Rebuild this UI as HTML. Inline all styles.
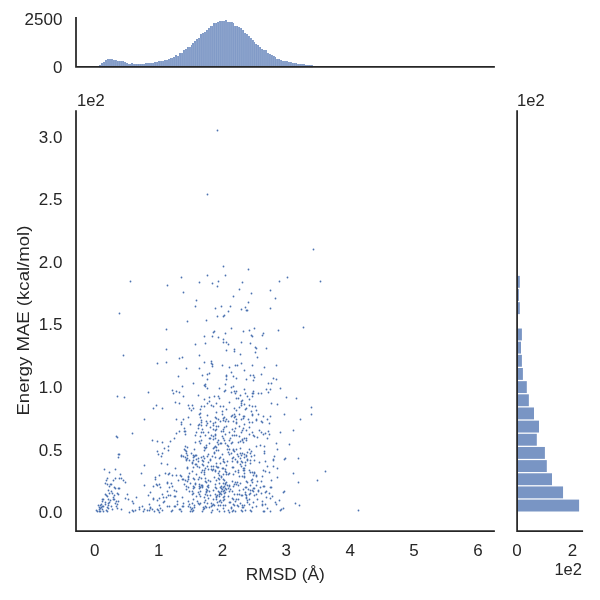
<!DOCTYPE html>
<html lang="en"><head><meta charset="utf-8"><title>RMSD vs Energy MAE</title>
<style>
html,body{margin:0;padding:0;background:#fff;}
body{width:600px;height:600px;overflow:hidden;font-family:"Liberation Sans",sans-serif;}
svg{display:block;will-change:transform;}
svg text{font-family:"Liberation Sans",sans-serif;fill:#262626;}
.t{font-size:15.6px;}
.l{font-size:17px;}
</style></head><body>
<svg width="600" height="600" viewBox="0 0 600 600">
<g id="hist-top">
<path d="M99 67.2 V65 H101 V63 H103 V62 H105 V60 H107 V59 H113 V60 H117 V61 H124 V62 H126 V63 H128 V64 H131 V63 H133 V64 H145 V63 H154 V62 H158 V61 H164 V60 H168 V59 H170 V58 H173 V57 H175 V55 H177 V56 H179 V53 H183 V50 H185 V49 H187 V47 H191 V45 H192 V43 H194 V41 H196 V39 H198 V38 H200 V34 H202 V33 H204 V32 H206 V30 H208 V28 H210 V26 H213 V23 H217 V22 H219 V21 H225 V20 H227 V22 H233 V23 H234 V26 H238 V27 H240 V28 H242 V30 H244 V33 H246 V34 H248 V36 H250 V38 H252 V40 H254 V42 H255 V44 H257 V45 H259 V47 H261 V49 H263 V50 H267 V53 H269 V54 H271 V55 H273 V56 H275 V57 H276 V59 H280 V60 H282 V61 H288 V62 H292 V63 H297 V64 H305 V65 H313 V67.2 Z" fill="#809ac7"/>
<path d="M101.41 65V67.2M103.31 63V67.2M105.21 62V67.2M107.12 60V67.2M109.02 59V67.2M110.92 59V67.2M112.82 59V67.2M114.73 60V67.2M116.63 60V67.2M118.53 61V67.2M120.44 61V67.2M122.34 61V67.2M124.24 62V67.2M126.14 63V67.2M128.05 64V67.2M129.95 64V67.2M131.85 64V67.2M133.75 64V67.2M135.66 64V67.2M137.56 64V67.2M139.46 64V67.2M141.36 64V67.2M143.27 64V67.2M145.17 64V67.2M147.07 63V67.2M148.98 63V67.2M150.88 63V67.2M152.78 63V67.2M154.68 63V67.2M156.59 62V67.2M158.49 62V67.2M160.39 61V67.2M162.29 61V67.2M164.20 61V67.2M166.10 60V67.2M168.00 60V67.2M169.91 59V67.2M171.81 58V67.2M173.71 58V67.2M175.61 57V67.2M177.52 56V67.2M179.42 56V67.2M181.32 53V67.2M183.22 53V67.2M185.13 50V67.2M187.03 49V67.2M188.93 47V67.2M190.84 47V67.2M192.74 45V67.2M194.64 43V67.2M196.54 41V67.2M198.45 39V67.2M200.35 38V67.2M202.25 34V67.2M204.15 33V67.2M206.06 32V67.2M207.96 30V67.2M209.86 28V67.2M211.76 26V67.2M213.67 26V67.2M215.57 23V67.2M217.47 23V67.2M219.38 22V67.2M221.28 21V67.2M223.18 21V67.2M225.08 21V67.2M226.99 20V67.2M228.89 22V67.2M230.79 22V67.2M232.69 22V67.2M234.60 26V67.2M236.50 26V67.2M238.40 27V67.2M240.31 28V67.2M242.21 30V67.2M244.11 33V67.2M246.01 34V67.2M247.92 34V67.2M249.82 36V67.2M251.72 38V67.2M253.62 40V67.2M255.53 44V67.2M257.43 45V67.2M259.33 47V67.2M261.23 49V67.2M263.14 50V67.2M265.04 50V67.2M266.94 50V67.2M268.85 53V67.2M270.75 54V67.2M272.65 55V67.2M274.55 56V67.2M276.46 59V67.2M278.36 59V67.2M280.26 60V67.2M282.16 61V67.2M284.07 61V67.2M285.97 61V67.2M287.87 61V67.2M289.78 62V67.2M291.68 62V67.2M293.58 63V67.2M295.48 63V67.2M297.39 64V67.2M299.29 64V67.2M301.19 64V67.2M303.09 64V67.2M305.00 64V67.2M306.90 65V67.2M308.80 65V67.2M310.71 65V67.2M312.61 65V67.2" stroke="#ffffff" stroke-opacity="0.2" stroke-width="0.6" fill="none"/>
</g>
<g id="hist-right" fill="#7995c4">
<rect x="517.2" y="499.60" width="61.90" height="11.9"/>
<rect x="517.2" y="486.44" width="45.85" height="11.9"/>
<rect x="517.2" y="473.28" width="34.80" height="11.9"/>
<rect x="517.2" y="460.12" width="29.60" height="11.9"/>
<rect x="517.2" y="446.96" width="27.70" height="11.9"/>
<rect x="517.2" y="433.80" width="19.60" height="11.9"/>
<rect x="517.2" y="420.64" width="21.80" height="11.9"/>
<rect x="517.2" y="407.48" width="16.80" height="11.9"/>
<rect x="517.2" y="394.32" width="11.65" height="11.9"/>
<rect x="517.2" y="381.16" width="9.60" height="11.9"/>
<rect x="517.2" y="368.00" width="5.70" height="11.9"/>
<rect x="517.2" y="354.84" width="4.70" height="11.9"/>
<rect x="517.2" y="341.68" width="3.80" height="11.9"/>
<rect x="517.2" y="328.52" width="4.70" height="11.9"/>
<rect x="517.2" y="302.20" width="2.60" height="11.9"/>
<rect x="517.2" y="289.04" width="1.70" height="11.9"/>
<rect x="517.2" y="275.88" width="2.60" height="11.9"/>
</g>
<g id="scatter" fill="#4c72b0">
<circle cx="217.5" cy="130.5" r="0.9"/><circle cx="207.5" cy="194.5" r="0.9"/><circle cx="313.5" cy="249.5" r="0.9"/><circle cx="130.5" cy="281.5" r="0.9"/><circle cx="167.5" cy="285.5" r="0.9"/><circle cx="119.5" cy="313.5" r="0.9"/><circle cx="166.5" cy="329.5" r="0.9"/><circle cx="223.5" cy="266.5" r="0.9"/><circle cx="248.5" cy="269.5" r="0.9"/><circle cx="181.5" cy="277.5" r="0.9"/><circle cx="207.5" cy="275.5" r="0.9"/><circle cx="225.5" cy="275.5" r="0.9"/><circle cx="199.5" cy="282.5" r="0.9"/><circle cx="212.5" cy="283.5" r="0.9"/><circle cx="218.5" cy="281.5" r="0.9"/><circle cx="217.5" cy="286.5" r="0.9"/><circle cx="242.5" cy="282.5" r="0.9"/><circle cx="279.5" cy="281.5" r="0.9"/><circle cx="239.5" cy="289.5" r="0.9"/><circle cx="270.5" cy="290.5" r="0.9"/><circle cx="183.5" cy="292.5" r="0.9"/><circle cx="251.5" cy="293.5" r="0.9"/><circle cx="233.5" cy="296.5" r="0.9"/><circle cx="275.5" cy="298.5" r="0.9"/><circle cx="196.5" cy="300.5" r="0.9"/><circle cx="248.5" cy="302.5" r="0.9"/><circle cx="195.5" cy="306.5" r="0.9"/><circle cx="221.5" cy="306.5" r="0.9"/><circle cx="230.5" cy="306.5" r="0.9"/><circle cx="215.5" cy="308.5" r="0.9"/><circle cx="245.5" cy="307.5" r="0.9"/><circle cx="241.5" cy="309.5" r="0.9"/><circle cx="246.5" cy="310.5" r="0.9"/><circle cx="247.5" cy="310.5" r="0.9"/><circle cx="270.5" cy="308.5" r="0.9"/><circle cx="228.5" cy="311.5" r="0.9"/><circle cx="217.5" cy="316.5" r="0.9"/><circle cx="223.5" cy="316.5" r="0.9"/><circle cx="224.5" cy="315.5" r="0.9"/><circle cx="187.5" cy="321.5" r="0.9"/><circle cx="206.5" cy="320.5" r="0.9"/><circle cx="231.5" cy="328.5" r="0.9"/><circle cx="254.5" cy="328.5" r="0.9"/><circle cx="249.5" cy="330.5" r="0.9"/><circle cx="243.5" cy="331.5" r="0.9"/><circle cx="278.5" cy="330.5" r="0.9"/><circle cx="214.5" cy="331.5" r="0.9"/><circle cx="213.5" cy="332.5" r="0.9"/><circle cx="225.5" cy="333.5" r="0.9"/><circle cx="263.5" cy="333.5" r="0.9"/><circle cx="262.5" cy="335.5" r="0.9"/><circle cx="251.5" cy="335.5" r="0.9"/><circle cx="252.5" cy="336.5" r="0.9"/><circle cx="204.5" cy="336.5" r="0.9"/><circle cx="212.5" cy="336.5" r="0.9"/><circle cx="218.5" cy="337.5" r="0.9"/><circle cx="223.5" cy="339.5" r="0.9"/><circle cx="287.5" cy="277.5" r="0.9"/><circle cx="320.5" cy="281.5" r="0.9"/><circle cx="303.5" cy="327.5" r="0.9"/><circle cx="166.5" cy="349.5" r="0.9"/><circle cx="123.5" cy="355.5" r="0.9"/><circle cx="179.5" cy="358.5" r="0.9"/><circle cx="157.5" cy="363.5" r="0.9"/><circle cx="166.5" cy="362.5" r="0.9"/><circle cx="178.5" cy="376.5" r="0.9"/><circle cx="172.5" cy="390.5" r="0.9"/><circle cx="176.5" cy="391.5" r="0.9"/><circle cx="173.5" cy="393.5" r="0.9"/><circle cx="179.5" cy="392.5" r="0.9"/><circle cx="148.5" cy="392.5" r="0.9"/><circle cx="117.5" cy="396.5" r="0.9"/><circle cx="124.5" cy="397.5" r="0.9"/><circle cx="175.5" cy="402.5" r="0.9"/><circle cx="179.5" cy="403.5" r="0.9"/><circle cx="156.5" cy="405.5" r="0.9"/><circle cx="153.5" cy="408.5" r="0.9"/><circle cx="162.5" cy="408.5" r="0.9"/><circle cx="144.5" cy="419.5" r="0.9"/><circle cx="176.5" cy="419.5" r="0.9"/><circle cx="195.5" cy="344.5" r="0.9"/><circle cx="205.5" cy="343.5" r="0.9"/><circle cx="223.5" cy="342.5" r="0.9"/><circle cx="226.5" cy="342.5" r="0.9"/><circle cx="228.5" cy="344.5" r="0.9"/><circle cx="226.5" cy="350.5" r="0.9"/><circle cx="199.5" cy="355.5" r="0.9"/><circle cx="182.5" cy="357.5" r="0.9"/><circle cx="211.5" cy="361.5" r="0.9"/><circle cx="204.5" cy="362.5" r="0.9"/><circle cx="211.5" cy="363.5" r="0.9"/><circle cx="212.5" cy="364.5" r="0.9"/><circle cx="212.5" cy="366.5" r="0.9"/><circle cx="222.5" cy="365.5" r="0.9"/><circle cx="229.5" cy="367.5" r="0.9"/><circle cx="186.5" cy="368.5" r="0.9"/><circle cx="199.5" cy="368.5" r="0.9"/><circle cx="209.5" cy="373.5" r="0.9"/><circle cx="207.5" cy="374.5" r="0.9"/><circle cx="202.5" cy="375.5" r="0.9"/><circle cx="226.5" cy="375.5" r="0.9"/><circle cx="226.5" cy="376.5" r="0.9"/><circle cx="207.5" cy="379.5" r="0.9"/><circle cx="226.5" cy="379.5" r="0.9"/><circle cx="241.5" cy="342.5" r="0.9"/><circle cx="250.5" cy="343.5" r="0.9"/><circle cx="255.5" cy="347.5" r="0.9"/><circle cx="256.5" cy="348.5" r="0.9"/><circle cx="266.5" cy="348.5" r="0.9"/><circle cx="234.5" cy="349.5" r="0.9"/><circle cx="234.5" cy="351.5" r="0.9"/><circle cx="255.5" cy="352.5" r="0.9"/><circle cx="240.5" cy="354.5" r="0.9"/><circle cx="257.5" cy="357.5" r="0.9"/><circle cx="241.5" cy="363.5" r="0.9"/><circle cx="235.5" cy="365.5" r="0.9"/><circle cx="237.5" cy="365.5" r="0.9"/><circle cx="252.5" cy="365.5" r="0.9"/><circle cx="276.5" cy="365.5" r="0.9"/><circle cx="264.5" cy="367.5" r="0.9"/><circle cx="244.5" cy="370.5" r="0.9"/><circle cx="231.5" cy="372.5" r="0.9"/><circle cx="261.5" cy="374.5" r="0.9"/><circle cx="250.5" cy="375.5" r="0.9"/><circle cx="253.5" cy="375.5" r="0.9"/><circle cx="254.5" cy="377.5" r="0.9"/><circle cx="233.5" cy="376.5" r="0.9"/><circle cx="236.5" cy="378.5" r="0.9"/><circle cx="273.5" cy="378.5" r="0.9"/><circle cx="246.5" cy="379.5" r="0.9"/><circle cx="276.5" cy="379.5" r="0.9"/><circle cx="193.5" cy="383.5" r="0.9"/><circle cx="182.5" cy="386.5" r="0.9"/><circle cx="205.5" cy="384.5" r="0.9"/><circle cx="204.5" cy="385.5" r="0.9"/><circle cx="205.5" cy="386.5" r="0.9"/><circle cx="207.5" cy="388.5" r="0.9"/><circle cx="225.5" cy="384.5" r="0.9"/><circle cx="219.5" cy="388.5" r="0.9"/><circle cx="225.5" cy="390.5" r="0.9"/><circle cx="224.5" cy="391.5" r="0.9"/><circle cx="198.5" cy="395.5" r="0.9"/><circle cx="183.5" cy="396.5" r="0.9"/><circle cx="214.5" cy="396.5" r="0.9"/><circle cx="218.5" cy="396.5" r="0.9"/><circle cx="209.5" cy="397.5" r="0.9"/><circle cx="219.5" cy="398.5" r="0.9"/><circle cx="204.5" cy="399.5" r="0.9"/><circle cx="209.5" cy="401.5" r="0.9"/><circle cx="207.5" cy="403.5" r="0.9"/><circle cx="216.5" cy="403.5" r="0.9"/><circle cx="229.5" cy="402.5" r="0.9"/><circle cx="188.5" cy="405.5" r="0.9"/><circle cx="192.5" cy="405.5" r="0.9"/><circle cx="211.5" cy="405.5" r="0.9"/><circle cx="213.5" cy="406.5" r="0.9"/><circle cx="201.5" cy="406.5" r="0.9"/><circle cx="204.5" cy="406.5" r="0.9"/><circle cx="220.5" cy="406.5" r="0.9"/><circle cx="223.5" cy="406.5" r="0.9"/><circle cx="189.5" cy="408.5" r="0.9"/><circle cx="193.5" cy="408.5" r="0.9"/><circle cx="191.5" cy="410.5" r="0.9"/><circle cx="200.5" cy="409.5" r="0.9"/><circle cx="226.5" cy="409.5" r="0.9"/><circle cx="222.5" cy="411.5" r="0.9"/><circle cx="216.5" cy="412.5" r="0.9"/><circle cx="200.5" cy="413.5" r="0.9"/><circle cx="199.5" cy="414.5" r="0.9"/><circle cx="222.5" cy="414.5" r="0.9"/><circle cx="207.5" cy="415.5" r="0.9"/><circle cx="188.5" cy="417.5" r="0.9"/><circle cx="200.5" cy="417.5" r="0.9"/><circle cx="215.5" cy="417.5" r="0.9"/><circle cx="216.5" cy="418.5" r="0.9"/><circle cx="224.5" cy="417.5" r="0.9"/><circle cx="223.5" cy="418.5" r="0.9"/><circle cx="218.5" cy="419.5" r="0.9"/><circle cx="183.5" cy="419.5" r="0.9"/><circle cx="226.5" cy="419.5" r="0.9"/><circle cx="253.5" cy="380.5" r="0.9"/><circle cx="268.5" cy="383.5" r="0.9"/><circle cx="271.5" cy="383.5" r="0.9"/><circle cx="233.5" cy="386.5" r="0.9"/><circle cx="231.5" cy="387.5" r="0.9"/><circle cx="244.5" cy="389.5" r="0.9"/><circle cx="266.5" cy="389.5" r="0.9"/><circle cx="270.5" cy="389.5" r="0.9"/><circle cx="280.5" cy="388.5" r="0.9"/><circle cx="234.5" cy="391.5" r="0.9"/><circle cx="236.5" cy="391.5" r="0.9"/><circle cx="253.5" cy="391.5" r="0.9"/><circle cx="231.5" cy="392.5" r="0.9"/><circle cx="235.5" cy="393.5" r="0.9"/><circle cx="245.5" cy="393.5" r="0.9"/><circle cx="252.5" cy="393.5" r="0.9"/><circle cx="253.5" cy="393.5" r="0.9"/><circle cx="258.5" cy="393.5" r="0.9"/><circle cx="261.5" cy="393.5" r="0.9"/><circle cx="268.5" cy="392.5" r="0.9"/><circle cx="240.5" cy="395.5" r="0.9"/><circle cx="247.5" cy="396.5" r="0.9"/><circle cx="252.5" cy="396.5" r="0.9"/><circle cx="236.5" cy="398.5" r="0.9"/><circle cx="238.5" cy="398.5" r="0.9"/><circle cx="249.5" cy="399.5" r="0.9"/><circle cx="242.5" cy="400.5" r="0.9"/><circle cx="241.5" cy="401.5" r="0.9"/><circle cx="241.5" cy="403.5" r="0.9"/><circle cx="244.5" cy="404.5" r="0.9"/><circle cx="271.5" cy="403.5" r="0.9"/><circle cx="277.5" cy="404.5" r="0.9"/><circle cx="241.5" cy="405.5" r="0.9"/><circle cx="249.5" cy="405.5" r="0.9"/><circle cx="252.5" cy="406.5" r="0.9"/><circle cx="255.5" cy="406.5" r="0.9"/><circle cx="239.5" cy="407.5" r="0.9"/><circle cx="234.5" cy="408.5" r="0.9"/><circle cx="246.5" cy="408.5" r="0.9"/><circle cx="245.5" cy="409.5" r="0.9"/><circle cx="236.5" cy="410.5" r="0.9"/><circle cx="256.5" cy="410.5" r="0.9"/><circle cx="251.5" cy="411.5" r="0.9"/><circle cx="239.5" cy="414.5" r="0.9"/><circle cx="234.5" cy="414.5" r="0.9"/><circle cx="252.5" cy="414.5" r="0.9"/><circle cx="252.5" cy="415.5" r="0.9"/><circle cx="258.5" cy="414.5" r="0.9"/><circle cx="232.5" cy="415.5" r="0.9"/><circle cx="231.5" cy="416.5" r="0.9"/><circle cx="235.5" cy="416.5" r="0.9"/><circle cx="234.5" cy="417.5" r="0.9"/><circle cx="243.5" cy="416.5" r="0.9"/><circle cx="244.5" cy="416.5" r="0.9"/><circle cx="243.5" cy="418.5" r="0.9"/><circle cx="263.5" cy="416.5" r="0.9"/><circle cx="270.5" cy="416.5" r="0.9"/><circle cx="236.5" cy="419.5" r="0.9"/><circle cx="241.5" cy="419.5" r="0.9"/><circle cx="248.5" cy="419.5" r="0.9"/><circle cx="267.5" cy="419.5" r="0.9"/><circle cx="256.5" cy="419.5" r="0.9"/><circle cx="201.5" cy="420.5" r="0.9"/><circle cx="206.5" cy="421.5" r="0.9"/><circle cx="210.5" cy="421.5" r="0.9"/><circle cx="220.5" cy="421.5" r="0.9"/><circle cx="223.5" cy="420.5" r="0.9"/><circle cx="225.5" cy="421.5" r="0.9"/><circle cx="228.5" cy="421.5" r="0.9"/><circle cx="181.5" cy="422.5" r="0.9"/><circle cx="201.5" cy="422.5" r="0.9"/><circle cx="215.5" cy="422.5" r="0.9"/><circle cx="181.5" cy="424.5" r="0.9"/><circle cx="190.5" cy="424.5" r="0.9"/><circle cx="199.5" cy="424.5" r="0.9"/><circle cx="207.5" cy="423.5" r="0.9"/><circle cx="206.5" cy="425.5" r="0.9"/><circle cx="213.5" cy="423.5" r="0.9"/><circle cx="198.5" cy="425.5" r="0.9"/><circle cx="201.5" cy="425.5" r="0.9"/><circle cx="213.5" cy="425.5" r="0.9"/><circle cx="216.5" cy="426.5" r="0.9"/><circle cx="218.5" cy="426.5" r="0.9"/><circle cx="226.5" cy="426.5" r="0.9"/><circle cx="210.5" cy="427.5" r="0.9"/><circle cx="224.5" cy="427.5" r="0.9"/><circle cx="184.5" cy="428.5" r="0.9"/><circle cx="198.5" cy="428.5" r="0.9"/><circle cx="202.5" cy="429.5" r="0.9"/><circle cx="213.5" cy="429.5" r="0.9"/><circle cx="216.5" cy="429.5" r="0.9"/><circle cx="223.5" cy="429.5" r="0.9"/><circle cx="215.5" cy="430.5" r="0.9"/><circle cx="184.5" cy="431.5" r="0.9"/><circle cx="185.5" cy="431.5" r="0.9"/><circle cx="221.5" cy="431.5" r="0.9"/><circle cx="223.5" cy="431.5" r="0.9"/><circle cx="229.5" cy="432.5" r="0.9"/><circle cx="196.5" cy="432.5" r="0.9"/><circle cx="201.5" cy="432.5" r="0.9"/><circle cx="203.5" cy="432.5" r="0.9"/><circle cx="208.5" cy="432.5" r="0.9"/><circle cx="185.5" cy="434.5" r="0.9"/><circle cx="195.5" cy="435.5" r="0.9"/><circle cx="205.5" cy="435.5" r="0.9"/><circle cx="211.5" cy="435.5" r="0.9"/><circle cx="215.5" cy="434.5" r="0.9"/><circle cx="215.5" cy="435.5" r="0.9"/><circle cx="225.5" cy="434.5" r="0.9"/><circle cx="200.5" cy="436.5" r="0.9"/><circle cx="213.5" cy="436.5" r="0.9"/><circle cx="222.5" cy="436.5" r="0.9"/><circle cx="209.5" cy="438.5" r="0.9"/><circle cx="210.5" cy="438.5" r="0.9"/><circle cx="215.5" cy="438.5" r="0.9"/><circle cx="213.5" cy="439.5" r="0.9"/><circle cx="223.5" cy="438.5" r="0.9"/><circle cx="201.5" cy="440.5" r="0.9"/><circle cx="199.5" cy="441.5" r="0.9"/><circle cx="218.5" cy="440.5" r="0.9"/><circle cx="224.5" cy="440.5" r="0.9"/><circle cx="229.5" cy="440.5" r="0.9"/><circle cx="195.5" cy="442.5" r="0.9"/><circle cx="200.5" cy="443.5" r="0.9"/><circle cx="209.5" cy="443.5" r="0.9"/><circle cx="217.5" cy="442.5" r="0.9"/><circle cx="218.5" cy="444.5" r="0.9"/><circle cx="220.5" cy="443.5" r="0.9"/><circle cx="221.5" cy="443.5" r="0.9"/><circle cx="225.5" cy="443.5" r="0.9"/><circle cx="206.5" cy="445.5" r="0.9"/><circle cx="185.5" cy="446.5" r="0.9"/><circle cx="187.5" cy="447.5" r="0.9"/><circle cx="204.5" cy="447.5" r="0.9"/><circle cx="206.5" cy="447.5" r="0.9"/><circle cx="215.5" cy="446.5" r="0.9"/><circle cx="216.5" cy="447.5" r="0.9"/><circle cx="227.5" cy="445.5" r="0.9"/><circle cx="228.5" cy="446.5" r="0.9"/><circle cx="184.5" cy="449.5" r="0.9"/><circle cx="185.5" cy="450.5" r="0.9"/><circle cx="186.5" cy="451.5" r="0.9"/><circle cx="194.5" cy="449.5" r="0.9"/><circle cx="205.5" cy="448.5" r="0.9"/><circle cx="204.5" cy="450.5" r="0.9"/><circle cx="213.5" cy="448.5" r="0.9"/><circle cx="214.5" cy="447.5" r="0.9"/><circle cx="216.5" cy="450.5" r="0.9"/><circle cx="218.5" cy="450.5" r="0.9"/><circle cx="227.5" cy="449.5" r="0.9"/><circle cx="229.5" cy="449.5" r="0.9"/><circle cx="186.5" cy="453.5" r="0.9"/><circle cx="191.5" cy="453.5" r="0.9"/><circle cx="214.5" cy="452.5" r="0.9"/><circle cx="214.5" cy="453.5" r="0.9"/><circle cx="208.5" cy="454.5" r="0.9"/><circle cx="222.5" cy="454.5" r="0.9"/><circle cx="228.5" cy="452.5" r="0.9"/><circle cx="229.5" cy="454.5" r="0.9"/><circle cx="181.5" cy="455.5" r="0.9"/><circle cx="181.5" cy="456.5" r="0.9"/><circle cx="183.5" cy="456.5" r="0.9"/><circle cx="187.5" cy="455.5" r="0.9"/><circle cx="193.5" cy="455.5" r="0.9"/><circle cx="195.5" cy="455.5" r="0.9"/><circle cx="196.5" cy="455.5" r="0.9"/><circle cx="194.5" cy="456.5" r="0.9"/><circle cx="203.5" cy="456.5" r="0.9"/><circle cx="207.5" cy="456.5" r="0.9"/><circle cx="212.5" cy="456.5" r="0.9"/><circle cx="215.5" cy="457.5" r="0.9"/><circle cx="185.5" cy="457.5" r="0.9"/><circle cx="187.5" cy="458.5" r="0.9"/><circle cx="193.5" cy="457.5" r="0.9"/><circle cx="201.5" cy="457.5" r="0.9"/><circle cx="204.5" cy="458.5" r="0.9"/><circle cx="198.5" cy="458.5" r="0.9"/><circle cx="196.5" cy="459.5" r="0.9"/><circle cx="220.5" cy="457.5" r="0.9"/><circle cx="219.5" cy="458.5" r="0.9"/><circle cx="223.5" cy="459.5" r="0.9"/><circle cx="186.5" cy="459.5" r="0.9"/><circle cx="210.5" cy="459.5" r="0.9"/><circle cx="233.5" cy="421.5" r="0.9"/><circle cx="236.5" cy="422.5" r="0.9"/><circle cx="236.5" cy="423.5" r="0.9"/><circle cx="256.5" cy="420.5" r="0.9"/><circle cx="249.5" cy="422.5" r="0.9"/><circle cx="252.5" cy="422.5" r="0.9"/><circle cx="261.5" cy="421.5" r="0.9"/><circle cx="262.5" cy="422.5" r="0.9"/><circle cx="269.5" cy="423.5" r="0.9"/><circle cx="244.5" cy="424.5" r="0.9"/><circle cx="239.5" cy="426.5" r="0.9"/><circle cx="249.5" cy="427.5" r="0.9"/><circle cx="235.5" cy="428.5" r="0.9"/><circle cx="232.5" cy="429.5" r="0.9"/><circle cx="243.5" cy="428.5" r="0.9"/><circle cx="242.5" cy="430.5" r="0.9"/><circle cx="246.5" cy="430.5" r="0.9"/><circle cx="234.5" cy="431.5" r="0.9"/><circle cx="259.5" cy="430.5" r="0.9"/><circle cx="268.5" cy="431.5" r="0.9"/><circle cx="241.5" cy="432.5" r="0.9"/><circle cx="252.5" cy="432.5" r="0.9"/><circle cx="261.5" cy="432.5" r="0.9"/><circle cx="265.5" cy="433.5" r="0.9"/><circle cx="249.5" cy="434.5" r="0.9"/><circle cx="263.5" cy="434.5" r="0.9"/><circle cx="269.5" cy="434.5" r="0.9"/><circle cx="232.5" cy="435.5" r="0.9"/><circle cx="234.5" cy="435.5" r="0.9"/><circle cx="236.5" cy="435.5" r="0.9"/><circle cx="239.5" cy="436.5" r="0.9"/><circle cx="253.5" cy="435.5" r="0.9"/><circle cx="254.5" cy="436.5" r="0.9"/><circle cx="257.5" cy="437.5" r="0.9"/><circle cx="267.5" cy="438.5" r="0.9"/><circle cx="230.5" cy="438.5" r="0.9"/><circle cx="244.5" cy="438.5" r="0.9"/><circle cx="246.5" cy="438.5" r="0.9"/><circle cx="242.5" cy="439.5" r="0.9"/><circle cx="246.5" cy="440.5" r="0.9"/><circle cx="240.5" cy="441.5" r="0.9"/><circle cx="242.5" cy="440.5" r="0.9"/><circle cx="243.5" cy="442.5" r="0.9"/><circle cx="238.5" cy="442.5" r="0.9"/><circle cx="232.5" cy="442.5" r="0.9"/><circle cx="231.5" cy="443.5" r="0.9"/><circle cx="276.5" cy="443.5" r="0.9"/><circle cx="260.5" cy="445.5" r="0.9"/><circle cx="256.5" cy="446.5" r="0.9"/><circle cx="264.5" cy="446.5" r="0.9"/><circle cx="240.5" cy="448.5" r="0.9"/><circle cx="233.5" cy="449.5" r="0.9"/><circle cx="236.5" cy="449.5" r="0.9"/><circle cx="249.5" cy="449.5" r="0.9"/><circle cx="277.5" cy="449.5" r="0.9"/><circle cx="233.5" cy="450.5" r="0.9"/><circle cx="234.5" cy="451.5" r="0.9"/><circle cx="251.5" cy="451.5" r="0.9"/><circle cx="264.5" cy="451.5" r="0.9"/><circle cx="247.5" cy="452.5" r="0.9"/><circle cx="250.5" cy="453.5" r="0.9"/><circle cx="264.5" cy="453.5" r="0.9"/><circle cx="231.5" cy="453.5" r="0.9"/><circle cx="237.5" cy="454.5" r="0.9"/><circle cx="240.5" cy="453.5" r="0.9"/><circle cx="242.5" cy="453.5" r="0.9"/><circle cx="241.5" cy="455.5" r="0.9"/><circle cx="244.5" cy="454.5" r="0.9"/><circle cx="246.5" cy="455.5" r="0.9"/><circle cx="246.5" cy="456.5" r="0.9"/><circle cx="238.5" cy="456.5" r="0.9"/><circle cx="251.5" cy="456.5" r="0.9"/><circle cx="254.5" cy="455.5" r="0.9"/><circle cx="274.5" cy="456.5" r="0.9"/><circle cx="233.5" cy="457.5" r="0.9"/><circle cx="232.5" cy="458.5" r="0.9"/><circle cx="244.5" cy="457.5" r="0.9"/><circle cx="240.5" cy="458.5" r="0.9"/><circle cx="235.5" cy="459.5" r="0.9"/><circle cx="247.5" cy="459.5" r="0.9"/><circle cx="273.5" cy="459.5" r="0.9"/><circle cx="280.5" cy="432.5" r="0.9"/><circle cx="186.5" cy="460.5" r="0.9"/><circle cx="189.5" cy="460.5" r="0.9"/><circle cx="193.5" cy="460.5" r="0.9"/><circle cx="198.5" cy="461.5" r="0.9"/><circle cx="202.5" cy="460.5" r="0.9"/><circle cx="203.5" cy="461.5" r="0.9"/><circle cx="210.5" cy="460.5" r="0.9"/><circle cx="192.5" cy="462.5" r="0.9"/><circle cx="192.5" cy="463.5" r="0.9"/><circle cx="208.5" cy="462.5" r="0.9"/><circle cx="216.5" cy="463.5" r="0.9"/><circle cx="220.5" cy="463.5" r="0.9"/><circle cx="223.5" cy="461.5" r="0.9"/><circle cx="224.5" cy="462.5" r="0.9"/><circle cx="227.5" cy="461.5" r="0.9"/><circle cx="195.5" cy="464.5" r="0.9"/><circle cx="196.5" cy="464.5" r="0.9"/><circle cx="202.5" cy="464.5" r="0.9"/><circle cx="203.5" cy="465.5" r="0.9"/><circle cx="226.5" cy="465.5" r="0.9"/><circle cx="197.5" cy="466.5" r="0.9"/><circle cx="207.5" cy="466.5" r="0.9"/><circle cx="211.5" cy="466.5" r="0.9"/><circle cx="213.5" cy="466.5" r="0.9"/><circle cx="216.5" cy="466.5" r="0.9"/><circle cx="217.5" cy="467.5" r="0.9"/><circle cx="218.5" cy="467.5" r="0.9"/><circle cx="187.5" cy="467.5" r="0.9"/><circle cx="187.5" cy="468.5" r="0.9"/><circle cx="193.5" cy="467.5" r="0.9"/><circle cx="199.5" cy="467.5" r="0.9"/><circle cx="205.5" cy="468.5" r="0.9"/><circle cx="208.5" cy="469.5" r="0.9"/><circle cx="211.5" cy="469.5" r="0.9"/><circle cx="213.5" cy="469.5" r="0.9"/><circle cx="212.5" cy="470.5" r="0.9"/><circle cx="215.5" cy="470.5" r="0.9"/><circle cx="222.5" cy="468.5" r="0.9"/><circle cx="225.5" cy="469.5" r="0.9"/><circle cx="223.5" cy="468.5" r="0.9"/><circle cx="192.5" cy="471.5" r="0.9"/><circle cx="202.5" cy="470.5" r="0.9"/><circle cx="204.5" cy="470.5" r="0.9"/><circle cx="201.5" cy="472.5" r="0.9"/><circle cx="204.5" cy="472.5" r="0.9"/><circle cx="189.5" cy="473.5" r="0.9"/><circle cx="219.5" cy="471.5" r="0.9"/><circle cx="218.5" cy="473.5" r="0.9"/><circle cx="225.5" cy="471.5" r="0.9"/><circle cx="226.5" cy="472.5" r="0.9"/><circle cx="229.5" cy="473.5" r="0.9"/><circle cx="215.5" cy="471.5" r="0.9"/><circle cx="196.5" cy="474.5" r="0.9"/><circle cx="204.5" cy="474.5" r="0.9"/><circle cx="180.5" cy="475.5" r="0.9"/><circle cx="181.5" cy="476.5" r="0.9"/><circle cx="188.5" cy="476.5" r="0.9"/><circle cx="223.5" cy="474.5" r="0.9"/><circle cx="226.5" cy="474.5" r="0.9"/><circle cx="228.5" cy="474.5" r="0.9"/><circle cx="219.5" cy="475.5" r="0.9"/><circle cx="221.5" cy="476.5" r="0.9"/><circle cx="188.5" cy="477.5" r="0.9"/><circle cx="182.5" cy="479.5" r="0.9"/><circle cx="183.5" cy="479.5" r="0.9"/><circle cx="193.5" cy="478.5" r="0.9"/><circle cx="194.5" cy="479.5" r="0.9"/><circle cx="199.5" cy="477.5" r="0.9"/><circle cx="198.5" cy="479.5" r="0.9"/><circle cx="201.5" cy="478.5" r="0.9"/><circle cx="205.5" cy="478.5" r="0.9"/><circle cx="214.5" cy="477.5" r="0.9"/><circle cx="218.5" cy="478.5" r="0.9"/><circle cx="219.5" cy="479.5" r="0.9"/><circle cx="221.5" cy="477.5" r="0.9"/><circle cx="223.5" cy="479.5" r="0.9"/><circle cx="224.5" cy="480.5" r="0.9"/><circle cx="185.5" cy="480.5" r="0.9"/><circle cx="188.5" cy="479.5" r="0.9"/><circle cx="187.5" cy="481.5" r="0.9"/><circle cx="208.5" cy="480.5" r="0.9"/><circle cx="210.5" cy="481.5" r="0.9"/><circle cx="205.5" cy="481.5" r="0.9"/><circle cx="206.5" cy="482.5" r="0.9"/><circle cx="216.5" cy="480.5" r="0.9"/><circle cx="226.5" cy="482.5" r="0.9"/><circle cx="190.5" cy="483.5" r="0.9"/><circle cx="195.5" cy="483.5" r="0.9"/><circle cx="219.5" cy="483.5" r="0.9"/><circle cx="223.5" cy="483.5" r="0.9"/><circle cx="225.5" cy="483.5" r="0.9"/><circle cx="184.5" cy="484.5" r="0.9"/><circle cx="195.5" cy="484.5" r="0.9"/><circle cx="199.5" cy="484.5" r="0.9"/><circle cx="201.5" cy="485.5" r="0.9"/><circle cx="202.5" cy="485.5" r="0.9"/><circle cx="208.5" cy="485.5" r="0.9"/><circle cx="215.5" cy="484.5" r="0.9"/><circle cx="225.5" cy="484.5" r="0.9"/><circle cx="227.5" cy="485.5" r="0.9"/><circle cx="229.5" cy="485.5" r="0.9"/><circle cx="186.5" cy="486.5" r="0.9"/><circle cx="188.5" cy="487.5" r="0.9"/><circle cx="193.5" cy="486.5" r="0.9"/><circle cx="194.5" cy="487.5" r="0.9"/><circle cx="199.5" cy="486.5" r="0.9"/><circle cx="200.5" cy="487.5" r="0.9"/><circle cx="202.5" cy="486.5" r="0.9"/><circle cx="202.5" cy="487.5" r="0.9"/><circle cx="207.5" cy="486.5" r="0.9"/><circle cx="208.5" cy="487.5" r="0.9"/><circle cx="221.5" cy="486.5" r="0.9"/><circle cx="224.5" cy="486.5" r="0.9"/><circle cx="229.5" cy="486.5" r="0.9"/><circle cx="186.5" cy="489.5" r="0.9"/><circle cx="193.5" cy="488.5" r="0.9"/><circle cx="199.5" cy="488.5" r="0.9"/><circle cx="206.5" cy="489.5" r="0.9"/><circle cx="207.5" cy="490.5" r="0.9"/><circle cx="213.5" cy="490.5" r="0.9"/><circle cx="215.5" cy="487.5" r="0.9"/><circle cx="216.5" cy="488.5" r="0.9"/><circle cx="220.5" cy="487.5" r="0.9"/><circle cx="221.5" cy="488.5" r="0.9"/><circle cx="223.5" cy="487.5" r="0.9"/><circle cx="225.5" cy="488.5" r="0.9"/><circle cx="222.5" cy="489.5" r="0.9"/><circle cx="224.5" cy="490.5" r="0.9"/><circle cx="226.5" cy="489.5" r="0.9"/><circle cx="228.5" cy="488.5" r="0.9"/><circle cx="189.5" cy="491.5" r="0.9"/><circle cx="192.5" cy="491.5" r="0.9"/><circle cx="193.5" cy="493.5" r="0.9"/><circle cx="198.5" cy="492.5" r="0.9"/><circle cx="200.5" cy="491.5" r="0.9"/><circle cx="206.5" cy="491.5" r="0.9"/><circle cx="209.5" cy="491.5" r="0.9"/><circle cx="206.5" cy="492.5" r="0.9"/><circle cx="218.5" cy="491.5" r="0.9"/><circle cx="219.5" cy="492.5" r="0.9"/><circle cx="221.5" cy="491.5" r="0.9"/><circle cx="223.5" cy="491.5" r="0.9"/><circle cx="225.5" cy="492.5" r="0.9"/><circle cx="229.5" cy="491.5" r="0.9"/><circle cx="220.5" cy="493.5" r="0.9"/><circle cx="224.5" cy="493.5" r="0.9"/><circle cx="192.5" cy="494.5" r="0.9"/><circle cx="199.5" cy="494.5" r="0.9"/><circle cx="205.5" cy="494.5" r="0.9"/><circle cx="207.5" cy="495.5" r="0.9"/><circle cx="210.5" cy="495.5" r="0.9"/><circle cx="215.5" cy="494.5" r="0.9"/><circle cx="219.5" cy="494.5" r="0.9"/><circle cx="221.5" cy="494.5" r="0.9"/><circle cx="217.5" cy="495.5" r="0.9"/><circle cx="216.5" cy="496.5" r="0.9"/><circle cx="219.5" cy="496.5" r="0.9"/><circle cx="224.5" cy="496.5" r="0.9"/><circle cx="228.5" cy="496.5" r="0.9"/><circle cx="196.5" cy="496.5" r="0.9"/><circle cx="200.5" cy="496.5" r="0.9"/><circle cx="182.5" cy="497.5" r="0.9"/><circle cx="204.5" cy="497.5" r="0.9"/><circle cx="208.5" cy="498.5" r="0.9"/><circle cx="216.5" cy="497.5" r="0.9"/><circle cx="223.5" cy="497.5" r="0.9"/><circle cx="193.5" cy="499.5" r="0.9"/><circle cx="213.5" cy="499.5" r="0.9"/><circle cx="216.5" cy="499.5" r="0.9"/><circle cx="224.5" cy="499.5" r="0.9"/><circle cx="232.5" cy="461.5" r="0.9"/><circle cx="237.5" cy="461.5" r="0.9"/><circle cx="237.5" cy="462.5" r="0.9"/><circle cx="241.5" cy="461.5" r="0.9"/><circle cx="242.5" cy="462.5" r="0.9"/><circle cx="245.5" cy="462.5" r="0.9"/><circle cx="247.5" cy="460.5" r="0.9"/><circle cx="250.5" cy="460.5" r="0.9"/><circle cx="254.5" cy="460.5" r="0.9"/><circle cx="259.5" cy="462.5" r="0.9"/><circle cx="265.5" cy="461.5" r="0.9"/><circle cx="273.5" cy="460.5" r="0.9"/><circle cx="250.5" cy="463.5" r="0.9"/><circle cx="240.5" cy="464.5" r="0.9"/><circle cx="241.5" cy="466.5" r="0.9"/><circle cx="245.5" cy="465.5" r="0.9"/><circle cx="267.5" cy="466.5" r="0.9"/><circle cx="273.5" cy="466.5" r="0.9"/><circle cx="232.5" cy="467.5" r="0.9"/><circle cx="233.5" cy="467.5" r="0.9"/><circle cx="243.5" cy="468.5" r="0.9"/><circle cx="244.5" cy="468.5" r="0.9"/><circle cx="277.5" cy="468.5" r="0.9"/><circle cx="238.5" cy="470.5" r="0.9"/><circle cx="243.5" cy="470.5" r="0.9"/><circle cx="244.5" cy="470.5" r="0.9"/><circle cx="249.5" cy="470.5" r="0.9"/><circle cx="263.5" cy="470.5" r="0.9"/><circle cx="235.5" cy="471.5" r="0.9"/><circle cx="238.5" cy="472.5" r="0.9"/><circle cx="250.5" cy="472.5" r="0.9"/><circle cx="252.5" cy="472.5" r="0.9"/><circle cx="254.5" cy="472.5" r="0.9"/><circle cx="254.5" cy="473.5" r="0.9"/><circle cx="265.5" cy="471.5" r="0.9"/><circle cx="269.5" cy="472.5" r="0.9"/><circle cx="244.5" cy="473.5" r="0.9"/><circle cx="233.5" cy="474.5" r="0.9"/><circle cx="253.5" cy="475.5" r="0.9"/><circle cx="256.5" cy="475.5" r="0.9"/><circle cx="256.5" cy="476.5" r="0.9"/><circle cx="239.5" cy="476.5" r="0.9"/><circle cx="242.5" cy="476.5" r="0.9"/><circle cx="244.5" cy="476.5" r="0.9"/><circle cx="244.5" cy="477.5" r="0.9"/><circle cx="262.5" cy="476.5" r="0.9"/><circle cx="277.5" cy="477.5" r="0.9"/><circle cx="252.5" cy="479.5" r="0.9"/><circle cx="251.5" cy="480.5" r="0.9"/><circle cx="271.5" cy="480.5" r="0.9"/><circle cx="232.5" cy="481.5" r="0.9"/><circle cx="235.5" cy="482.5" r="0.9"/><circle cx="237.5" cy="482.5" r="0.9"/><circle cx="246.5" cy="481.5" r="0.9"/><circle cx="247.5" cy="482.5" r="0.9"/><circle cx="252.5" cy="482.5" r="0.9"/><circle cx="257.5" cy="481.5" r="0.9"/><circle cx="261.5" cy="481.5" r="0.9"/><circle cx="240.5" cy="483.5" r="0.9"/><circle cx="234.5" cy="484.5" r="0.9"/><circle cx="236.5" cy="484.5" r="0.9"/><circle cx="238.5" cy="485.5" r="0.9"/><circle cx="250.5" cy="485.5" r="0.9"/><circle cx="256.5" cy="485.5" r="0.9"/><circle cx="233.5" cy="486.5" r="0.9"/><circle cx="263.5" cy="486.5" r="0.9"/><circle cx="264.5" cy="486.5" r="0.9"/><circle cx="230.5" cy="489.5" r="0.9"/><circle cx="243.5" cy="489.5" r="0.9"/><circle cx="245.5" cy="487.5" r="0.9"/><circle cx="246.5" cy="487.5" r="0.9"/><circle cx="248.5" cy="489.5" r="0.9"/><circle cx="253.5" cy="488.5" r="0.9"/><circle cx="254.5" cy="488.5" r="0.9"/><circle cx="260.5" cy="487.5" r="0.9"/><circle cx="270.5" cy="487.5" r="0.9"/><circle cx="271.5" cy="487.5" r="0.9"/><circle cx="232.5" cy="491.5" r="0.9"/><circle cx="239.5" cy="490.5" r="0.9"/><circle cx="250.5" cy="490.5" r="0.9"/><circle cx="252.5" cy="490.5" r="0.9"/><circle cx="253.5" cy="491.5" r="0.9"/><circle cx="258.5" cy="490.5" r="0.9"/><circle cx="258.5" cy="491.5" r="0.9"/><circle cx="245.5" cy="492.5" r="0.9"/><circle cx="266.5" cy="491.5" r="0.9"/><circle cx="265.5" cy="492.5" r="0.9"/><circle cx="234.5" cy="494.5" r="0.9"/><circle cx="237.5" cy="494.5" r="0.9"/><circle cx="239.5" cy="494.5" r="0.9"/><circle cx="241.5" cy="495.5" r="0.9"/><circle cx="242.5" cy="495.5" r="0.9"/><circle cx="245.5" cy="494.5" r="0.9"/><circle cx="246.5" cy="495.5" r="0.9"/><circle cx="249.5" cy="494.5" r="0.9"/><circle cx="250.5" cy="493.5" r="0.9"/><circle cx="254.5" cy="495.5" r="0.9"/><circle cx="256.5" cy="494.5" r="0.9"/><circle cx="261.5" cy="493.5" r="0.9"/><circle cx="269.5" cy="493.5" r="0.9"/><circle cx="272.5" cy="496.5" r="0.9"/><circle cx="232.5" cy="498.5" r="0.9"/><circle cx="233.5" cy="499.5" r="0.9"/><circle cx="236.5" cy="499.5" r="0.9"/><circle cx="238.5" cy="499.5" r="0.9"/><circle cx="246.5" cy="497.5" r="0.9"/><circle cx="246.5" cy="498.5" r="0.9"/><circle cx="249.5" cy="499.5" r="0.9"/><circle cx="257.5" cy="499.5" r="0.9"/><circle cx="266.5" cy="497.5" r="0.9"/><circle cx="270.5" cy="498.5" r="0.9"/><circle cx="188.5" cy="501.5" r="0.9"/><circle cx="197.5" cy="501.5" r="0.9"/><circle cx="205.5" cy="500.5" r="0.9"/><circle cx="204.5" cy="502.5" r="0.9"/><circle cx="220.5" cy="500.5" r="0.9"/><circle cx="223.5" cy="500.5" r="0.9"/><circle cx="219.5" cy="501.5" r="0.9"/><circle cx="183.5" cy="503.5" r="0.9"/><circle cx="192.5" cy="503.5" r="0.9"/><circle cx="198.5" cy="503.5" r="0.9"/><circle cx="200.5" cy="503.5" r="0.9"/><circle cx="207.5" cy="503.5" r="0.9"/><circle cx="211.5" cy="503.5" r="0.9"/><circle cx="217.5" cy="502.5" r="0.9"/><circle cx="221.5" cy="502.5" r="0.9"/><circle cx="229.5" cy="502.5" r="0.9"/><circle cx="189.5" cy="504.5" r="0.9"/><circle cx="194.5" cy="505.5" r="0.9"/><circle cx="199.5" cy="504.5" r="0.9"/><circle cx="213.5" cy="504.5" r="0.9"/><circle cx="212.5" cy="505.5" r="0.9"/><circle cx="218.5" cy="505.5" r="0.9"/><circle cx="220.5" cy="505.5" r="0.9"/><circle cx="223.5" cy="505.5" r="0.9"/><circle cx="225.5" cy="505.5" r="0.9"/><circle cx="182.5" cy="506.5" r="0.9"/><circle cx="183.5" cy="506.5" r="0.9"/><circle cx="188.5" cy="506.5" r="0.9"/><circle cx="190.5" cy="507.5" r="0.9"/><circle cx="194.5" cy="507.5" r="0.9"/><circle cx="203.5" cy="507.5" r="0.9"/><circle cx="205.5" cy="506.5" r="0.9"/><circle cx="206.5" cy="507.5" r="0.9"/><circle cx="209.5" cy="507.5" r="0.9"/><circle cx="211.5" cy="506.5" r="0.9"/><circle cx="214.5" cy="505.5" r="0.9"/><circle cx="192.5" cy="508.5" r="0.9"/><circle cx="193.5" cy="510.5" r="0.9"/><circle cx="191.5" cy="509.5" r="0.9"/><circle cx="180.5" cy="509.5" r="0.9"/><circle cx="204.5" cy="508.5" r="0.9"/><circle cx="203.5" cy="509.5" r="0.9"/><circle cx="217.5" cy="509.5" r="0.9"/><circle cx="223.5" cy="508.5" r="0.9"/><circle cx="181.5" cy="511.5" r="0.9"/><circle cx="190.5" cy="511.5" r="0.9"/><circle cx="192.5" cy="511.5" r="0.9"/><circle cx="202.5" cy="511.5" r="0.9"/><circle cx="212.5" cy="510.5" r="0.9"/><circle cx="211.5" cy="512.5" r="0.9"/><circle cx="219.5" cy="511.5" r="0.9"/><circle cx="224.5" cy="511.5" r="0.9"/><circle cx="228.5" cy="510.5" r="0.9"/><circle cx="229.5" cy="512.5" r="0.9"/><circle cx="235.5" cy="501.5" r="0.9"/><circle cx="247.5" cy="500.5" r="0.9"/><circle cx="262.5" cy="501.5" r="0.9"/><circle cx="279.5" cy="500.5" r="0.9"/><circle cx="230.5" cy="502.5" r="0.9"/><circle cx="247.5" cy="502.5" r="0.9"/><circle cx="253.5" cy="502.5" r="0.9"/><circle cx="275.5" cy="502.5" r="0.9"/><circle cx="240.5" cy="503.5" r="0.9"/><circle cx="233.5" cy="504.5" r="0.9"/><circle cx="234.5" cy="505.5" r="0.9"/><circle cx="249.5" cy="504.5" r="0.9"/><circle cx="262.5" cy="504.5" r="0.9"/><circle cx="262.5" cy="505.5" r="0.9"/><circle cx="265.5" cy="504.5" r="0.9"/><circle cx="276.5" cy="504.5" r="0.9"/><circle cx="237.5" cy="505.5" r="0.9"/><circle cx="238.5" cy="506.5" r="0.9"/><circle cx="242.5" cy="505.5" r="0.9"/><circle cx="244.5" cy="505.5" r="0.9"/><circle cx="256.5" cy="506.5" r="0.9"/><circle cx="231.5" cy="507.5" r="0.9"/><circle cx="231.5" cy="508.5" r="0.9"/><circle cx="242.5" cy="507.5" r="0.9"/><circle cx="243.5" cy="507.5" r="0.9"/><circle cx="252.5" cy="507.5" r="0.9"/><circle cx="267.5" cy="508.5" r="0.9"/><circle cx="233.5" cy="510.5" r="0.9"/><circle cx="232.5" cy="511.5" r="0.9"/><circle cx="235.5" cy="511.5" r="0.9"/><circle cx="241.5" cy="510.5" r="0.9"/><circle cx="242.5" cy="511.5" r="0.9"/><circle cx="245.5" cy="510.5" r="0.9"/><circle cx="250.5" cy="510.5" r="0.9"/><circle cx="251.5" cy="511.5" r="0.9"/><circle cx="263.5" cy="511.5" r="0.9"/><circle cx="264.5" cy="511.5" r="0.9"/><circle cx="270.5" cy="511.5" r="0.9"/><circle cx="280.5" cy="510.5" r="0.9"/><circle cx="132.5" cy="433.5" r="0.9"/><circle cx="116.5" cy="436.5" r="0.9"/><circle cx="117.5" cy="437.5" r="0.9"/><circle cx="179.5" cy="431.5" r="0.9"/><circle cx="176.5" cy="433.5" r="0.9"/><circle cx="174.5" cy="438.5" r="0.9"/><circle cx="170.5" cy="441.5" r="0.9"/><circle cx="152.5" cy="440.5" r="0.9"/><circle cx="157.5" cy="441.5" r="0.9"/><circle cx="162.5" cy="442.5" r="0.9"/><circle cx="168.5" cy="446.5" r="0.9"/><circle cx="164.5" cy="448.5" r="0.9"/><circle cx="168.5" cy="450.5" r="0.9"/><circle cx="157.5" cy="451.5" r="0.9"/><circle cx="162.5" cy="453.5" r="0.9"/><circle cx="158.5" cy="454.5" r="0.9"/><circle cx="161.5" cy="456.5" r="0.9"/><circle cx="118.5" cy="454.5" r="0.9"/><circle cx="119.5" cy="454.5" r="0.9"/><circle cx="118.5" cy="457.5" r="0.9"/><circle cx="161.5" cy="463.5" r="0.9"/><circle cx="167.5" cy="464.5" r="0.9"/><circle cx="144.5" cy="465.5" r="0.9"/><circle cx="175.5" cy="468.5" r="0.9"/><circle cx="104.5" cy="469.5" r="0.9"/><circle cx="115.5" cy="469.5" r="0.9"/><circle cx="109.5" cy="472.5" r="0.9"/><circle cx="141.5" cy="473.5" r="0.9"/><circle cx="120.5" cy="474.5" r="0.9"/><circle cx="165.5" cy="473.5" r="0.9"/><circle cx="169.5" cy="473.5" r="0.9"/><circle cx="168.5" cy="474.5" r="0.9"/><circle cx="159.5" cy="475.5" r="0.9"/><circle cx="172.5" cy="475.5" r="0.9"/><circle cx="176.5" cy="475.5" r="0.9"/><circle cx="155.5" cy="477.5" r="0.9"/><circle cx="155.5" cy="479.5" r="0.9"/><circle cx="107.5" cy="478.5" r="0.9"/><circle cx="115.5" cy="478.5" r="0.9"/><circle cx="119.5" cy="478.5" r="0.9"/><circle cx="121.5" cy="478.5" r="0.9"/><circle cx="106.5" cy="480.5" r="0.9"/><circle cx="113.5" cy="480.5" r="0.9"/><circle cx="123.5" cy="480.5" r="0.9"/><circle cx="125.5" cy="482.5" r="0.9"/><circle cx="178.5" cy="480.5" r="0.9"/><circle cx="105.5" cy="483.5" r="0.9"/><circle cx="107.5" cy="484.5" r="0.9"/><circle cx="110.5" cy="484.5" r="0.9"/><circle cx="111.5" cy="484.5" r="0.9"/><circle cx="109.5" cy="486.5" r="0.9"/><circle cx="167.5" cy="482.5" r="0.9"/><circle cx="167.5" cy="483.5" r="0.9"/><circle cx="171.5" cy="483.5" r="0.9"/><circle cx="156.5" cy="484.5" r="0.9"/><circle cx="157.5" cy="485.5" r="0.9"/><circle cx="159.5" cy="484.5" r="0.9"/><circle cx="144.5" cy="485.5" r="0.9"/><circle cx="153.5" cy="486.5" r="0.9"/><circle cx="160.5" cy="487.5" r="0.9"/><circle cx="169.5" cy="487.5" r="0.9"/><circle cx="172.5" cy="486.5" r="0.9"/><circle cx="114.5" cy="487.5" r="0.9"/><circle cx="115.5" cy="488.5" r="0.9"/><circle cx="118.5" cy="488.5" r="0.9"/><circle cx="119.5" cy="488.5" r="0.9"/><circle cx="108.5" cy="490.5" r="0.9"/><circle cx="111.5" cy="491.5" r="0.9"/><circle cx="174.5" cy="490.5" r="0.9"/><circle cx="176.5" cy="491.5" r="0.9"/><circle cx="167.5" cy="491.5" r="0.9"/><circle cx="150.5" cy="492.5" r="0.9"/><circle cx="109.5" cy="493.5" r="0.9"/><circle cx="112.5" cy="493.5" r="0.9"/><circle cx="117.5" cy="493.5" r="0.9"/><circle cx="286.5" cy="397.5" r="0.9"/><circle cx="296.5" cy="398.5" r="0.9"/><circle cx="311.5" cy="407.5" r="0.9"/><circle cx="284.5" cy="414.5" r="0.9"/><circle cx="311.5" cy="414.5" r="0.9"/><circle cx="300.5" cy="419.5" r="0.9"/><circle cx="293.5" cy="430.5" r="0.9"/><circle cx="289.5" cy="444.5" r="0.9"/><circle cx="284.5" cy="459.5" r="0.9"/><circle cx="285.5" cy="458.5" r="0.9"/><circle cx="298.5" cy="458.5" r="0.9"/><circle cx="325.5" cy="471.5" r="0.9"/><circle cx="293.5" cy="473.5" r="0.9"/><circle cx="317.5" cy="480.5" r="0.9"/><circle cx="298.5" cy="482.5" r="0.9"/><circle cx="283.5" cy="492.5" r="0.9"/><circle cx="284.5" cy="491.5" r="0.9"/><circle cx="295.5" cy="503.5" r="0.9"/><circle cx="299.5" cy="505.5" r="0.9"/><circle cx="283.5" cy="508.5" r="0.9"/><circle cx="281.5" cy="509.5" r="0.9"/><circle cx="358.5" cy="510.5" r="0.9"/><circle cx="105.5" cy="494.5" r="0.9"/><circle cx="106.5" cy="495.5" r="0.9"/><circle cx="107.5" cy="496.5" r="0.9"/><circle cx="114.5" cy="495.5" r="0.9"/><circle cx="118.5" cy="494.5" r="0.9"/><circle cx="127.5" cy="494.5" r="0.9"/><circle cx="113.5" cy="497.5" r="0.9"/><circle cx="125.5" cy="498.5" r="0.9"/><circle cx="128.5" cy="499.5" r="0.9"/><circle cx="102.5" cy="499.5" r="0.9"/><circle cx="103.5" cy="499.5" r="0.9"/><circle cx="108.5" cy="499.5" r="0.9"/><circle cx="113.5" cy="499.5" r="0.9"/><circle cx="114.5" cy="499.5" r="0.9"/><circle cx="110.5" cy="500.5" r="0.9"/><circle cx="102.5" cy="501.5" r="0.9"/><circle cx="116.5" cy="501.5" r="0.9"/><circle cx="118.5" cy="501.5" r="0.9"/><circle cx="105.5" cy="502.5" r="0.9"/><circle cx="109.5" cy="502.5" r="0.9"/><circle cx="108.5" cy="503.5" r="0.9"/><circle cx="115.5" cy="503.5" r="0.9"/><circle cx="101.5" cy="504.5" r="0.9"/><circle cx="105.5" cy="504.5" r="0.9"/><circle cx="117.5" cy="504.5" r="0.9"/><circle cx="98.5" cy="505.5" r="0.9"/><circle cx="100.5" cy="505.5" r="0.9"/><circle cx="108.5" cy="505.5" r="0.9"/><circle cx="102.5" cy="506.5" r="0.9"/><circle cx="103.5" cy="506.5" r="0.9"/><circle cx="111.5" cy="506.5" r="0.9"/><circle cx="116.5" cy="506.5" r="0.9"/><circle cx="99.5" cy="507.5" r="0.9"/><circle cx="101.5" cy="507.5" r="0.9"/><circle cx="107.5" cy="507.5" r="0.9"/><circle cx="100.5" cy="508.5" r="0.9"/><circle cx="108.5" cy="508.5" r="0.9"/><circle cx="117.5" cy="508.5" r="0.9"/><circle cx="99.5" cy="509.5" r="0.9"/><circle cx="102.5" cy="509.5" r="0.9"/><circle cx="112.5" cy="509.5" r="0.9"/><circle cx="121.5" cy="509.5" r="0.9"/><circle cx="96.5" cy="510.5" r="0.9"/><circle cx="106.5" cy="510.5" r="0.9"/><circle cx="97.5" cy="511.5" r="0.9"/><circle cx="99.5" cy="511.5" r="0.9"/><circle cx="100.5" cy="511.5" r="0.9"/><circle cx="103.5" cy="511.5" r="0.9"/><circle cx="107.5" cy="511.5" r="0.9"/><circle cx="129.5" cy="512.5" r="0.9"/><circle cx="148.5" cy="495.5" r="0.9"/><circle cx="162.5" cy="494.5" r="0.9"/><circle cx="168.5" cy="495.5" r="0.9"/><circle cx="170.5" cy="495.5" r="0.9"/><circle cx="174.5" cy="496.5" r="0.9"/><circle cx="175.5" cy="496.5" r="0.9"/><circle cx="136.5" cy="497.5" r="0.9"/><circle cx="163.5" cy="497.5" r="0.9"/><circle cx="166.5" cy="497.5" r="0.9"/><circle cx="153.5" cy="498.5" r="0.9"/><circle cx="153.5" cy="499.5" r="0.9"/><circle cx="159.5" cy="498.5" r="0.9"/><circle cx="157.5" cy="500.5" r="0.9"/><circle cx="132.5" cy="501.5" r="0.9"/><circle cx="164.5" cy="501.5" r="0.9"/><circle cx="163.5" cy="502.5" r="0.9"/><circle cx="177.5" cy="501.5" r="0.9"/><circle cx="133.5" cy="503.5" r="0.9"/><circle cx="149.5" cy="504.5" r="0.9"/><circle cx="159.5" cy="505.5" r="0.9"/><circle cx="177.5" cy="504.5" r="0.9"/><circle cx="142.5" cy="506.5" r="0.9"/><circle cx="167.5" cy="506.5" r="0.9"/><circle cx="169.5" cy="506.5" r="0.9"/><circle cx="174.5" cy="506.5" r="0.9"/><circle cx="175.5" cy="506.5" r="0.9"/><circle cx="139.5" cy="507.5" r="0.9"/><circle cx="150.5" cy="507.5" r="0.9"/><circle cx="150.5" cy="508.5" r="0.9"/><circle cx="160.5" cy="508.5" r="0.9"/><circle cx="139.5" cy="509.5" r="0.9"/><circle cx="144.5" cy="509.5" r="0.9"/><circle cx="152.5" cy="509.5" r="0.9"/><circle cx="157.5" cy="509.5" r="0.9"/><circle cx="132.5" cy="510.5" r="0.9"/><circle cx="135.5" cy="510.5" r="0.9"/><circle cx="147.5" cy="510.5" r="0.9"/><circle cx="149.5" cy="510.5" r="0.9"/><circle cx="158.5" cy="510.5" r="0.9"/><circle cx="162.5" cy="510.5" r="0.9"/><circle cx="172.5" cy="510.5" r="0.9"/><circle cx="171.5" cy="511.5" r="0.9"/><circle cx="133.5" cy="511.5" r="0.9"/><circle cx="143.5" cy="511.5" r="0.9"/><circle cx="154.5" cy="511.5" r="0.9"/><circle cx="159.5" cy="512.5" r="0.9"/><circle cx="179.5" cy="509.5" r="0.9"/>
</g>
<g id="spines" stroke="#262626" stroke-width="1.75" fill="none" stroke-linecap="square">
<path d="M76 111.1V531H494"/>
<path d="M76 17.9V66.8H494"/>
<path d="M517.1 111.1V531H582.2"/>
</g>
<text class="t" x="94.8" y="556" text-anchor="middle" textLength="9.47" lengthAdjust="spacingAndGlyphs">0</text>
<text class="t" x="158.65" y="556" text-anchor="middle" textLength="9.47" lengthAdjust="spacingAndGlyphs">1</text>
<text class="t" x="222.5" y="556" text-anchor="middle" textLength="9.47" lengthAdjust="spacingAndGlyphs">2</text>
<text class="t" x="286.35" y="556" text-anchor="middle" textLength="9.47" lengthAdjust="spacingAndGlyphs">3</text>
<text class="t" x="350.2" y="556" text-anchor="middle" textLength="9.47" lengthAdjust="spacingAndGlyphs">4</text>
<text class="t" x="414.05" y="556" text-anchor="middle" textLength="9.47" lengthAdjust="spacingAndGlyphs">5</text>
<text class="t" x="477.9" y="556" text-anchor="middle" textLength="9.47" lengthAdjust="spacingAndGlyphs">6</text>
<text class="t" x="62.4" y="518.2" text-anchor="end" textLength="23.69" lengthAdjust="spacingAndGlyphs">0.0</text>
<text class="t" x="62.4" y="455.6" text-anchor="end" textLength="23.69" lengthAdjust="spacingAndGlyphs">0.5</text>
<text class="t" x="62.4" y="393" text-anchor="end" textLength="23.69" lengthAdjust="spacingAndGlyphs">1.0</text>
<text class="t" x="62.4" y="330.4" text-anchor="end" textLength="23.69" lengthAdjust="spacingAndGlyphs">1.5</text>
<text class="t" x="62.4" y="267.8" text-anchor="end" textLength="23.69" lengthAdjust="spacingAndGlyphs">2.0</text>
<text class="t" x="62.4" y="205.2" text-anchor="end" textLength="23.69" lengthAdjust="spacingAndGlyphs">2.5</text>
<text class="t" x="62.4" y="142.6" text-anchor="end" textLength="23.69" lengthAdjust="spacingAndGlyphs">3.0</text>
<text class="t" x="62.4" y="24.9" text-anchor="end" textLength="37.88" lengthAdjust="spacingAndGlyphs">2500</text>
<text class="t" x="62.4" y="72.8" text-anchor="end" textLength="9.47" lengthAdjust="spacingAndGlyphs">0</text>
<text class="t" x="517" y="556" text-anchor="middle" textLength="9.47" lengthAdjust="spacingAndGlyphs">0</text>
<text class="t" x="572.4" y="556" text-anchor="middle" textLength="9.47" lengthAdjust="spacingAndGlyphs">2</text>
<text class="t" x="77" y="105.6" text-anchor="start" textLength="27.6" lengthAdjust="spacingAndGlyphs">1e2</text>
<text class="t" x="517" y="105.6" text-anchor="start" textLength="27.6" lengthAdjust="spacingAndGlyphs">1e2</text>
<text class="t" x="582" y="575" text-anchor="end" textLength="27.6" lengthAdjust="spacingAndGlyphs">1e2</text>
<text class="l" x="285.3" y="580.2" text-anchor="middle" textLength="79" lengthAdjust="spacingAndGlyphs">RMSD (Å)</text>
<text class="l" transform="translate(29.4 320.6) rotate(-90)" text-anchor="middle" textLength="190" lengthAdjust="spacingAndGlyphs">Energy MAE (kcal/mol)</text>
</svg>
</body></html>
